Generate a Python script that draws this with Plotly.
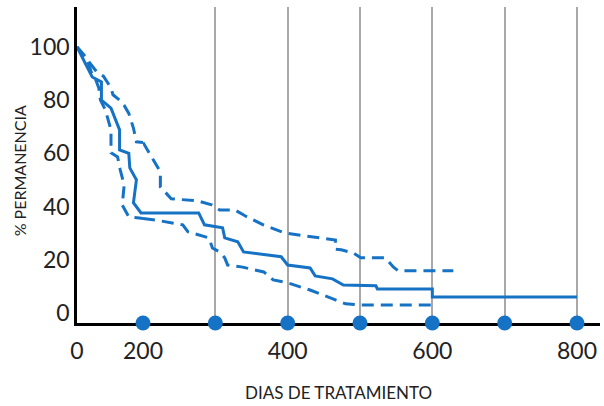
import plotly.graph_objects as go

# ---- data ----
solid_days = [0, 46, 74, 74, 103, 129, 129, 157, 160, 180, 171, 194, 200, 277, 285, 310, 313,
              331, 339, 391, 400, 431, 438, 462, 477, 522, 524, 600, 600, 800]
solid_vals = [100, 88.7, 86.8, 80, 77, 68.8, 61.3, 60, 54.5, 50, 41.4, 37.6, 37.6, 37.6, 33.1, 32, 28.2,
              26.7, 22.9, 21.1, 18, 16.9, 13.9, 12.8, 10.5, 10.2, 9, 9, 6, 6]

upper_days = [0, 46, 60, 80, 103, 109, 129, 143, 157, 171, 180, 200, 208, 220, 224, 224, 232, 239,
              276, 295, 306, 327, 341, 367, 396, 424, 466, 466, 474, 491, 501, 535, 546, 553, 629]
upper_vals = [100, 92.5, 90.6, 89, 84.6, 82, 80, 78, 75, 69.5, 64.3, 64.1, 60.5, 55.3, 53, 47.4, 45, 42.9,
              42.1, 40.6, 38.7, 38.7, 36.5, 33, 30, 29, 27.4, 23.9, 23.7, 22.5, 20.7, 20.7, 17.3, 15.8, 15.8]

lower_days = [0, 29, 43, 57, 66, 71, 86, 103, 103, 123, 131, 143, 137, 146, 157, 189, 200, 224, 255,
              262, 291, 296, 306, 313, 317, 336, 367, 380, 400, 431, 466, 480, 500, 600]
lower_vals = [100, 95.9, 90.6, 87.6, 84.6, 80, 76.3, 68.8, 60.2, 58.6, 53.8, 48.1, 40.6, 38.7, 36.1, 35.7,
              35.5, 34.6, 33.1, 30.5, 28.2, 24.4, 22.9, 20.7, 18, 17.3, 15.4, 12.4, 11.3, 8.6, 4.9, 3.4, 3, 3]

dot_days = [200, 300, 400, 500, 600, 700, 800]

x_ticks_1 = [0]
x_ticks_2 = [200, 300, 400, 500, 600, 700, 800]
x_labels_2 = ["200", "", "400", "", "600", "", "800"]
y_ticks = [0, 20, 40, 60, 80, 100]

BLUE = "#1672c4"
FONT = "Lato"
Y_MIN, Y_MAX = -3.8, 115
BREAK = 200

fig = go.Figure()


def split(days, vals):
    a = [(d, v) for d, v in zip(days, vals) if d <= BREAK]
    b = [(d, v) for d, v in zip(days, vals) if d >= BREAK]
    return a, b


for days, vals, dash in [(solid_days, solid_vals, "solid"),
                         (upper_days, upper_vals, "12px,7px"),
                         (lower_days, lower_vals, "12px,7px")]:
    a, b = split(days, vals)
    for pts, xa in [(a, "x"), (b, "x2")]:
        fig.add_trace(go.Scatter(
            x=[p[0] for p in pts], y=[p[1] for p in pts],
            xaxis=xa, yaxis="y", mode="lines",
            line=dict(color=BLUE, width=3, dash=dash),
            hoverinfo="skip", showlegend=False))

fig.add_trace(go.Scatter(
    x=dot_days, y=[Y_MIN] * len(dot_days), xaxis="x2", yaxis="y",
    mode="markers", marker=dict(color=BLUE, size=15),
    cliponaxis=False, showlegend=False, hoverinfo="skip"))

d1 = (143 - 77) / 523

axis_common = dict(showline=True, linecolor="black", linewidth=2.5, zeroline=False,
                   ticks="outside", ticklen=6, tickcolor="rgba(0,0,0,0)",
                   tickfont=dict(family=FONT, size=23, color="#222"),
                   layer="below traces", fixedrange=True)

fig.update_layout(
    width=604, height=406,
    margin=dict(l=77, r=4, t=7, b=83),
    paper_bgcolor="white", plot_bgcolor="white",
    xaxis=dict(domain=[0, d1], range=[0, BREAK], tickvals=x_ticks_1, ticktext=["0"],
               showgrid=False, anchor="y", **axis_common),
    xaxis2=dict(domain=[d1, 1], range=[BREAK, 831.8], tickvals=x_ticks_2, ticktext=x_labels_2,
                showgrid=True, gridcolor="#a8a8a8", gridwidth=1.5, anchor="y", **axis_common),
    yaxis=dict(range=[Y_MIN, Y_MAX], tickvals=y_ticks, showgrid=False,
               showline=True, linecolor="black", linewidth=2.5, zeroline=False,
               ticks="", tickfont=dict(family=FONT, size=23, color="#222"), fixedrange=True),
    annotations=[
        dict(text="DIAS DE TRATAMIENTO", xref="paper", yref="paper", x=0.5, y=(323 - 392) / 316,
             xanchor="center", yanchor="middle", showarrow=False,
             font=dict(family=FONT, size=17, color="#222")),
        dict(text="% PERMANENCIA", xref="paper", yref="paper", x=(19 - 77) / 523, y=0.48,
             xanchor="center", yanchor="middle", showarrow=False, textangle=-90,
             font=dict(family=FONT, size=16, color="#222")),
    ],
)

fig.write_html("out.html", config={"displayModeBar": False},
               post_script="document.body.style.margin='0';")
